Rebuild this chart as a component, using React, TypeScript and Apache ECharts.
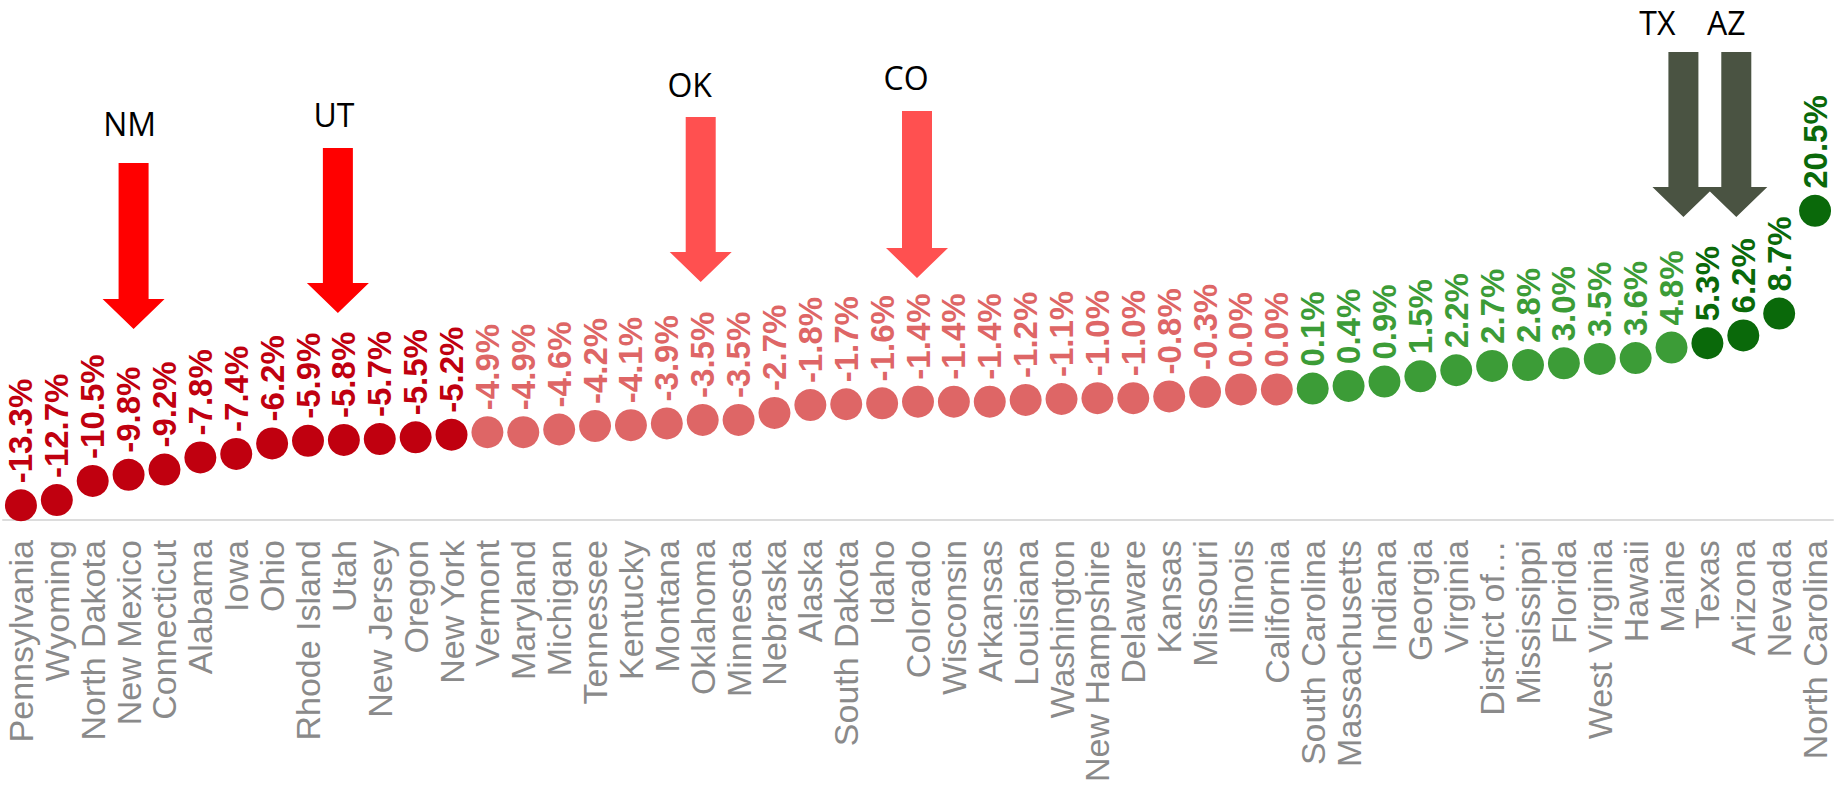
import React, { useEffect, useRef } from "react";
import * as echarts from "echarts";

// States ordered by growth, lowest first
const states = [
  "Pennsylvania", "Wyoming", "North Dakota", "New Mexico", "Connecticut", "Alabama",
  "Iowa", "Ohio", "Rhode Island", "Utah", "New Jersey", "Oregon", "New York",
  "Vermont", "Maryland", "Michigan", "Tennessee", "Kentucky", "Montana", "Oklahoma",
  "Minnesota", "Nebraska", "Alaska", "South Dakota", "Idaho", "Colorado", "Wisconsin",
  "Arkansas", "Louisiana", "Washington", "New Hampshire", "Delaware", "Kansas",
  "Missouri", "Illinois", "California", "South Carolina", "Massachusetts", "Indiana",
  "Georgia", "Virginia", "District of…", "Mississippi", "Florida", "West Virginia",
  "Hawaii", "Maine", "Texas", "Arizona", "Nevada", "North Carolina",
];

// Percent change per state
const growth = [
  -13.3, -12.7, -10.5, -9.8, -9.2, -7.8, -7.4, -6.2, -5.9, -5.8, -5.7, -5.5, -5.2,
  -4.9, -4.9, -4.6, -4.2, -4.1, -3.9, -3.5, -3.5, -2.7, -1.8, -1.7, -1.6, -1.4, -1.4,
  -1.4, -1.2, -1.1, -1.0, -1.0, -0.8, -0.3, 0.0, 0.0, 0.1, 0.4, 0.9, 1.5, 2.2, 2.7,
  2.8, 3.0, 3.5, 3.6, 4.8, 5.3, 6.2, 8.7, 20.5,
];

// Callout arrows: state abbreviation, target state and arrow styling
const callouts = [
  { code: "NM", state: "New Mexico", dx: 5, textDx: -4, textY: 123, top: 163, tip: 329, color: "#FF0000" },
  { code: "UT", state: "Utah", dx: -6, textDx: -4, textY: 114, top: 148, tip: 313, color: "#FF0000" },
  { code: "OK", state: "Oklahoma", dx: -2, textDx: -11, textY: 84, top: 117, tip: 282, color: "#FF5050" },
  { code: "CO", state: "Colorado", dx: -1, textDx: -11, textY: 77, top: 111, tip: 278, color: "#FF5050" },
  { code: "TX", state: "Texas", dx: -24, textDx: -26, textY: 22, top: 52, tip: 217, color: "#4A5342" },
  { code: "AZ", state: "Arizona", dx: -7, textDx: -10, textY: 22, top: 52, tip: 217, color: "#4A5342" },
];

const DARK_RED = "#C0000F";
const LIGHT_RED = "#DE6666";
const LIGHT_GREEN = "#3C9C37";
const DARK_GREEN = "#0A690A";

function colorFor(v: number): string {
  if (v <= -5) return DARK_RED;
  if (v <= 0) return LIGHT_RED;
  if (v < 5) return LIGHT_GREEN;
  return DARK_GREEN;
}

export default function App() {
  const ref = useRef<HTMLDivElement>(null);

  useEffect(() => {
    if (!ref.current) return;
    const chart = echarts.init(ref.current, null, { renderer: "svg" });

    const points = growth.map((v) => {
      const c = colorFor(v);
      return {
        value: v,
        itemStyle: { color: c, opacity: 1 },
        label: { color: c },
      };
    });

    chart.setOption({
      animation: false,
      backgroundColor: "#ffffff",
      grid: { left: 3, right: 6, top: 128, bottom: 261 },
      xAxis: {
        type: "category",
        data: states,
        boundaryGap: true,
        axisTick: { show: false },
        axisLine: { onZero: false, lineStyle: { color: "#dcdcdc", width: 2 } },
        axisLabel: {
          interval: 0,
          rotate: 90,
          margin: 20,
          fontSize: 34,
          color: "#8a8a8a",
          fontFamily: "Liberation Sans, Arial, sans-serif",
        },
        splitLine: { show: false },
      },
      yAxis: {
        type: "value",
        min: -15,
        max: 30,
        show: false,
      },
      series: [
        {
          type: "scatter",
          symbol: "circle",
          symbolSize: 32,
          data: points,
          itemStyle: { opacity: 1 },
          label: {
            show: true,
            position: "top",
            rotate: 90,
            align: "left",
            verticalAlign: "middle",
            distance: 6,
            fontSize: 33,
            fontWeight: "bold",
            fontFamily: "Liberation Sans, Arial, sans-serif",
            formatter: (p: any) => `${Number(p.value).toFixed(1)}%`,
          },
        },
      ],
    });

    // Callout arrows placed over their states on the category axis
    const graphics: any[] = [];
    callouts.forEach((c) => {
      const cx = (chart.convertToPixel({ xAxisIndex: 0 }, c.state) as number) + c.dx;
      const shoulder = c.tip - 30;
      graphics.push({
        type: "polygon",
        shape: {
          points: [
            [cx - 15, c.top],
            [cx + 15, c.top],
            [cx + 15, shoulder],
            [cx + 31, shoulder],
            [cx, c.tip],
            [cx - 31, shoulder],
            [cx - 15, shoulder],
          ],
        },
        style: { fill: c.color },
        z: 10,
      });
      graphics.push({
        type: "text",
        x: cx + c.textDx,
        y: c.textY,
        style: {
          text: c.code,
          fill: "#000000",
          fontSize: 32,
          fontFamily: "Open Sans, Liberation Sans, sans-serif",
          align: "center",
          verticalAlign: "middle",
        },
        z: 10,
      });
    });
    chart.setOption({ graphic: graphics });

    return () => chart.dispose();
  }, []);

  return (
    <div
      ref={ref}
      style={{ position: "fixed", left: 0, top: 0, width: 1839, height: 785 }}
    />
  );
}
